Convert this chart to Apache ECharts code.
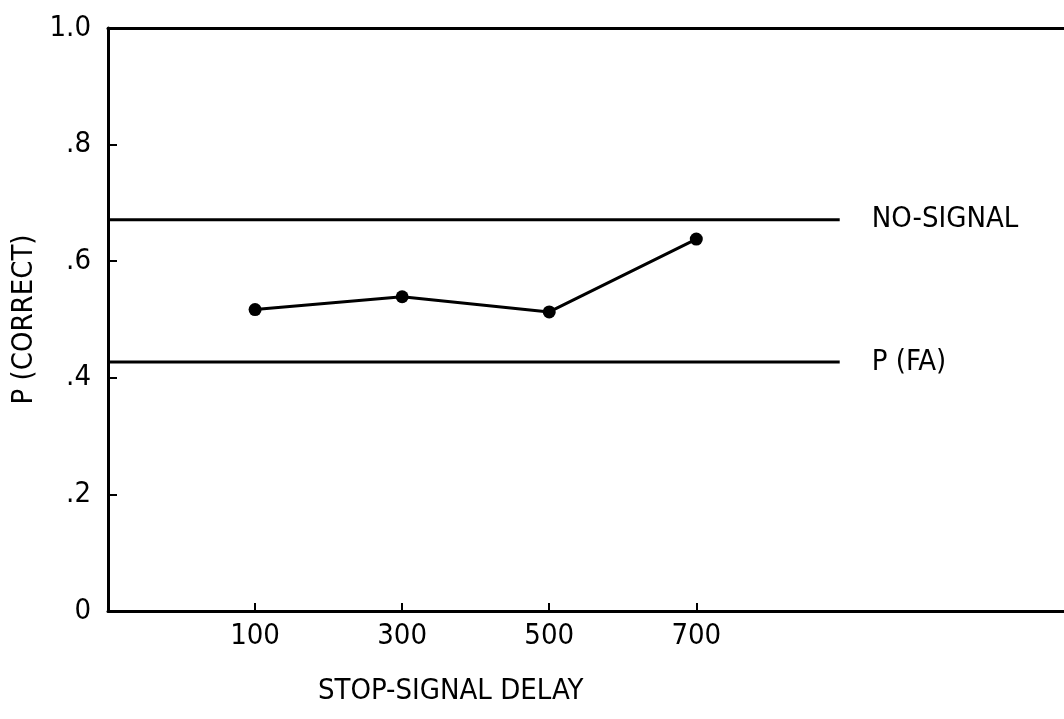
<!DOCTYPE html>
<html>
<head>
<meta charset="utf-8">
<script src="https://cdn.jsdelivr.net/npm/echarts@6/dist/echarts.min.js"></script>
<style>
  html, body { margin: 0; padding: 0; background: #fff; }
  #chart { width: 1064px; height: 719px; }
</style>
</head>
<body>
<div id="chart"></div>
<script>
// data
var delays = [100, 300, 500, 700];
var pCorrect = [0.517, 0.539, 0.513, 0.638];
var xTicks = [100, 300, 500, 700];
var yTicks = [0, 0.2, 0.4, 0.6, 0.8, 1.0];
var yTickLabels = ['0', '.2', '.4', '.6', '.8', '1.0'];
var refNames = ['NO-SIGNAL', 'P (FA)'];
var refValues = [0.671, 0.427];
var refStart = -100;
var refEnd = 895;

var FONT = '"Liberation Sans Narrow", "DejaVu Sans Condensed", "Liberation Sans", sans-serif';
var INK = '#000';

var chart = echarts.init(document.getElementById('chart'));

// horizontal reference lines with their label at the end
var refSeries = refNames.map(function (name, i) {
  return {
    name: name,
    type: 'line',
    data: [[refStart, refValues[i]], [refEnd, refValues[i]]],
    symbol: 'none',
    silent: true,
    lineStyle: { color: INK, width: 3 },
    endLabel: {
      show: true,
      formatter: '{a}',
      distance: 32,
      color: INK,
      fontFamily: FONT,
      fontSize: 29
    }
  };
});

var option = {
  animation: false,
  backgroundColor: '#fff',
  grid: { left: 108, right: 0, top: 28, bottom: 108, outerBoundsMode: 'none', containLabel: false },
  xAxis: [{
    type: 'value',
    min: -100,
    max: 1200,
    interval: 200,
    axisLine: { show: true, onZero: false, lineStyle: { color: INK, width: 3 } },
    axisTick: { show: true, inside: true, length: 8, customValues: xTicks, lineStyle: { color: INK, width: 2 } },
    axisLabel: {
      customValues: xTicks,
      margin: 11,
      color: INK,
      fontFamily: FONT,
      fontSize: 29
    },
    splitLine: { show: false }
  }, {
    // top border of the frame
    type: 'value',
    position: 'top',
    min: -100,
    max: 1200,
    axisLine: { show: true, onZero: false, lineStyle: { color: INK, width: 3 } },
    axisTick: { show: false },
    axisLabel: { show: false },
    splitLine: { show: false }
  }],
  yAxis: {
    type: 'value',
    min: 0,
    max: 1,
    name: 'P (CORRECT)',
    nameLocation: 'middle',
    nameGap: 68,
    nameTextStyle: { color: INK, fontFamily: FONT, fontSize: 29 },
    axisLine: { show: true, onZero: false, lineStyle: { color: INK, width: 3 } },
    axisTick: { show: true, inside: true, length: 9, customValues: [0.2, 0.4, 0.6, 0.8], lineStyle: { color: INK, width: 2 } },
    axisLabel: {
      customValues: yTicks,
      margin: 17,
      color: INK,
      fontFamily: FONT,
      fontSize: 29,
      formatter: function (v) {
        var i = yTicks.findIndex(function (t) { return Math.abs(t - v) < 1e-6; });
        return i >= 0 ? yTickLabels[i] : '';
      }
    },
    splitLine: { show: false }
  },
  graphic: [{
    type: 'text',
    left: 318,
    top: 677,
    style: {
      text: 'STOP-SIGNAL DELAY',
      fill: INK,
      font: '29px ' + FONT
    }
  }],
  series: refSeries.concat([{
    name: 'P(correct)',
    type: 'line',
    data: delays.map(function (d, i) { return [d, pCorrect[i]]; }),
    symbol: 'circle',
    symbolSize: 13,
    itemStyle: { color: INK },
    lineStyle: { color: INK, width: 3 }
  }])
};

chart.setOption(option);
</script>
</body>
</html>
